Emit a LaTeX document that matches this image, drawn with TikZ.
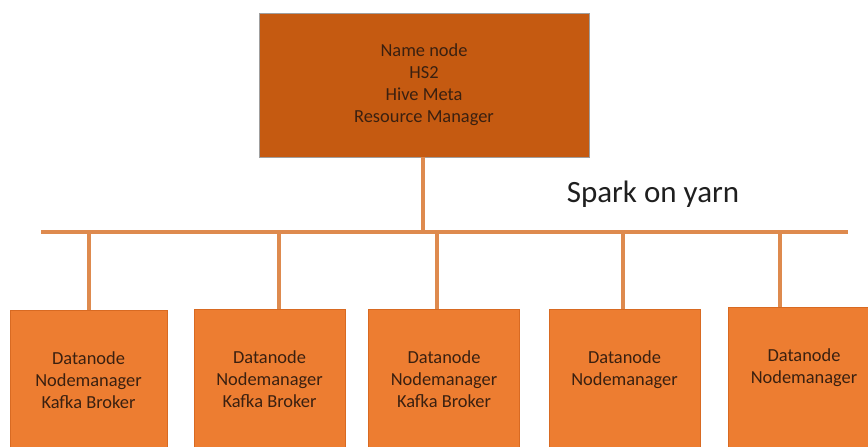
\documentclass[tikz,border=0pt]{standalone}
\usepackage{fontspec}
\setmainfont{Carlito}
\usepackage{tikz}
\usetikzlibrary{positioning}

\definecolor{headfill}{HTML}{C55A11}
\definecolor{nodefill}{HTML}{ED7D31}
\definecolor{nodeline}{HTML}{D86A22}
\definecolor{busline}{HTML}{DE8A4E}
\definecolor{labeltext}{HTML}{3A2010}

\begin{document}
\begin{tikzpicture}[x=1pt, y=-1pt,
                    every node/.style={font=\fontsize{18.4}{22}\selectfont, text=labeltext, align=center},
                    master/.style={draw=gray!75, fill=headfill, line width=0.8pt,
                                   minimum width=330pt, minimum height=144pt},
                    worker/.style={draw=nodeline, fill=nodefill, line width=0.8pt, anchor=north,
                                   inner sep=0pt, text depth=100pt},
                    three/.style={text height=98pt},
                    two/.style={text height=76pt},
                    wire/.style={draw=busline, line width=3.2pt}]
    \clip (0,0) rectangle (868,447);

   \node[master] (namenode) at (424,85) {Name node\\HS2\\Hive Meta\\Resource Manager};

   \node[worker, three, minimum width=157pt] (dn1) at (88.5,310) {Datanode\\Nodemanager\\Kafka Broker};
   \node[worker, three, minimum width=151pt] (dn2) at (269.5,309) {Datanode\\Nodemanager\\Kafka Broker};
   \node[worker, three, minimum width=151pt] (dn3) at (444,309) {Datanode\\Nodemanager\\Kafka Broker};
   \node[worker, two, minimum width=151pt] (dn4) at (624.5,309) {Datanode\\Nodemanager};
   \node[worker, two, minimum width=152pt] (dn5) at (804,307) {Datanode\\Nodemanager};

   \node[font=\fontsize{31}{36}\selectfont, text=black!88, anchor=base] (title) at (653,202) {Spark on yarn};

   % bus line and drops
   \coordinate (busL) at (41,232);
   \coordinate (busR) at (848,232);
   \coordinate (d1) at (89,232);
   \coordinate (d2) at (279,232);
   \coordinate (d3) at (437,232);
   \coordinate (d4) at (623,232);
   \coordinate (d5) at (780,232);

   \path[wire]
    (busL) -- (busR)
    (namenode.south -| 423,0) -- (423,232)
    (d1) -- (d1 |- dn1.north)
    (d2) -- (d2 |- dn2.north)
    (d3) -- (d3 |- dn3.north)
    (d4) -- (d4 |- dn4.north)
    (d5) -- (d5 |- dn5.north);

\end{tikzpicture}
\end{document}
